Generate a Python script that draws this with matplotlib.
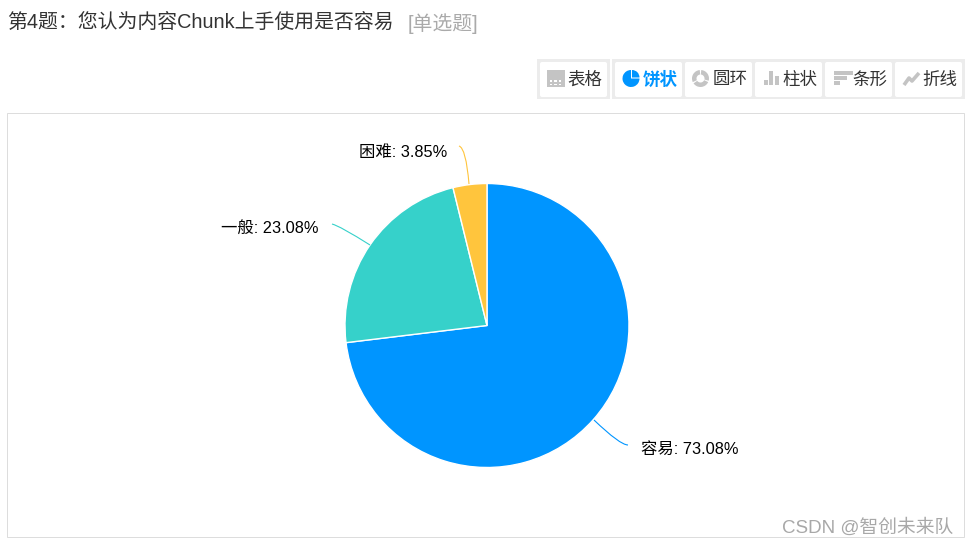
import matplotlib
matplotlib.use('Agg')
import matplotlib.pyplot as plt
from matplotlib.patches import Rectangle, FancyBboxPatch, PathPatch, Wedge
from matplotlib.path import Path

plt.rcParams['font.family'] = ['Liberation Sans', 'Noto Sans CJK SC', 'DejaVu Sans']

# chart data
categories = ['容易', '一般', '困难']
percents = [73.08, 23.08, 3.85]
colors = ['#0095ff', '#36d1ca', '#ffc53d']
label_xy = [(641, 449.5), (221, 228.5), (359, 152.5)]
# leader curves: start on the slice, control point, end near the label
leaders = [((594, 420), (620, 445), (628, 445)),
           ((370, 245), (340, 226), (332, 224)),
           ((469, 184), (466, 148), (459, 146))]

tabs = ['表格', '饼状', '圆环', '柱状', '条形', '折线']
tab_x = [540, 615, 685, 755, 825, 895]
tab_text_x = [567, 643, 713, 782, 852, 922]

H = 546
fig = plt.figure(figsize=(9.69, 5.46), dpi=100)
ax = fig.add_axes([0, 0, 1, 1])
ax.set_xlim(0, 969)
ax.set_ylim(0, H)
ax.set_aspect('equal')
ax.axis('off')


def flip(y):
    return H - y


# question title
ax.text(7, flip(23.5), '第4题：您认为内容Chunk上手使用是否容易', fontsize=14.3,
        color='#333333', va='center')
ax.text(408, flip(23.5), '[单选题]', fontsize=14.3, color='#aaaaaa', va='center')

# chart frame
ax.add_patch(Rectangle((7.5, flip(536.5)), 957, 424, fill=False,
                       edgecolor='#dddddd', lw=0.72))

# toolbar
ax.add_patch(Rectangle((537, flip(99)), 73, 40, facecolor='#ececec', edgecolor='none'))
ax.add_patch(Rectangle((612, flip(99)), 353, 40, facecolor='#ececec', edgecolor='none'))
for i, (tab, x, tx) in enumerate(zip(tabs, tab_x, tab_text_x)):
    active = i == 1
    ax.add_patch(FancyBboxPatch((x, flip(97)), 67, 35,
                                boxstyle='round,pad=0,rounding_size=2',
                                facecolor='white', edgecolor='none'))
    ax.text(tx, flip(79.5), tab, fontsize=12.6, va='center',
            color='#0095ff' if active else '#333333',
            fontweight='bold' if active else 'normal')

gray = '#c4c4c4'
# table icon
ax.add_patch(Rectangle((547, flip(87)), 18, 17, facecolor=gray, edgecolor='none'))
for r in range(2):
    for c in range(3):
        ax.add_patch(Rectangle((550 + c * 4.5, flip(81.5 + r * 3.5)), 2.5, 1.5,
                               facecolor='white', edgecolor='none'))
# pie icon
ax.add_patch(Wedge((631, flip(78.5)), 8.5, 90, 360, facecolor='#0095ff', edgecolor='none'))
ax.add_patch(Wedge((632, flip(77.5)), 7.5, 0, 90, facecolor='#0095ff', edgecolor='none'))
# ring icon
for a in [(95, 205), (215, 335), (345, 85)]:
    ax.add_patch(Wedge((700.5, flip(78.5)), 8.5, a[0], a[1], width=4.5, facecolor=gray, edgecolor='none'))
# bar icon
for x, h in zip([764, 769.5, 775], [5, 14, 9]):
    ax.add_patch(Rectangle((x, flip(85)), 4, h, facecolor=gray, edgecolor='none'))
# horizontal bar icon
for y, w in zip([71, 76, 81], [19, 13, 6]):
    ax.add_patch(Rectangle((834, flip(y + 4)), w, 4, facecolor=gray, edgecolor='none'))
# line icon
ax.plot([904, 909, 912, 919], [flip(85), flip(78), flip(81), flip(73)],
        color=gray, lw=2.6, solid_capstyle='butt')

# pie
wedges, _ = ax.pie(percents, colors=colors, startangle=90, counterclock=False,
                   center=(487, flip(325.5)), radius=142, frame=True,
                   wedgeprops={'edgecolor': 'white', 'linewidth': 1})
ax.set_xlim(0, 969)
ax.set_ylim(0, H)
ax.axis('off')

for name, pct, color, (lx, ly), pts in zip(categories, percents, colors,
                                           label_xy, leaders):
    ax.text(lx, flip(ly), f'{name}: {pct:.2f}%', fontsize=11.8, color='black',
            ha='left', va='center')
    verts = [(x, flip(y)) for x, y in pts]
    ax.add_patch(PathPatch(Path(verts, [Path.MOVETO, Path.CURVE3, Path.CURVE3]),
                           fill=False, edgecolor=color, lw=0.8))

# watermark
ax.text(782, flip(528), 'CSDN @智创未来队', fontsize=13.5, color='#a8a8a8', va='center')

fig.savefig('out.png', dpi=100)
plt.close(fig)
